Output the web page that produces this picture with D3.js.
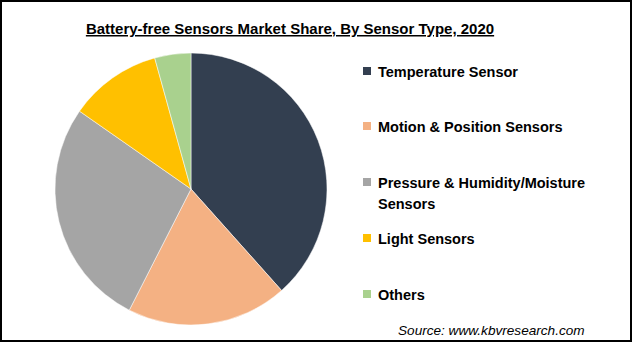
<!DOCTYPE html>
<html><head><meta charset="utf-8">
<script src="https://cdn.jsdelivr.net/npm/d3@7"></script>
<style>html,body{margin:0;padding:0;background:#fff;overflow:hidden}</style>
</head><body>
<svg id="c" width="633" height="343"></svg>
<script>
const categories = ["Temperature Sensor","Motion & Position Sensors","Pressure & Humidity/Moisture Sensors","Light Sensors","Others"];
const legendLines = [["Temperature Sensor"],["Motion & Position Sensors"],["Pressure & Humidity/Moisture","Sensors"],["Light Sensors"],["Others"]];
const shares = [38.4, 19.1, 27.2, 11.0, 4.3];
const colors = ["#333F50","#F4B183","#A5A5A5","#FFC000","#A9D18E"];
const title = "Battery-free Sensors Market Share, By Sensor Type, 2020";
const source = "Source: www.kbvresearch.com";

const svg = d3.select("#c");
const font = "'Liberation Sans', Arial, sans-serif";
svg.append("rect").attr("x",1).attr("y",1).attr("width",630).attr("height",340)
  .attr("fill","#fff").attr("stroke","#000").attr("stroke-width",2);

svg.append("text").attr("x",290).attr("y",34).attr("text-anchor","middle")
  .attr("font-family",font).attr("font-weight","bold").attr("font-size",15)
  .attr("text-decoration","underline").attr("fill","#000").text(title);

const data = categories.map((c,i)=>({c, v:shares[i], col:colors[i], lines:legendLines[i]}));
const pie = d3.pie().value(d=>d.v).sort(null);
const arc = d3.arc().innerRadius(0).outerRadius(136);
const g = svg.append("g").attr("transform","translate(191,189)");
g.selectAll("path").data(pie(data)).join("path").attr("d",arc).attr("fill",d=>d.data.col)
  .attr("stroke","#fff").attr("stroke-width",0.5);

const ly = d3.scaleOrdinal().domain(categories).range([72,127,183,239,295]);
const lg = svg.append("g");
data.forEach(d=>{
  const y = ly(d.c);
  lg.append("rect").attr("x",363).attr("y",y-5).attr("width",8).attr("height",8).attr("fill",d.col);
  d.lines.forEach((ln,j)=>{
    lg.append("text").attr("x",378).attr("y",y+5+j*21).attr("font-family",font)
      .attr("font-weight","bold").attr("font-size",14.5).attr("fill","#000").text(ln);
  });
});

svg.append("text").attr("x",398).attr("y",335).attr("font-family",font).attr("font-style","italic")
  .attr("font-size",13.6).attr("fill","#000").text(source);
</script>
</body></html>
